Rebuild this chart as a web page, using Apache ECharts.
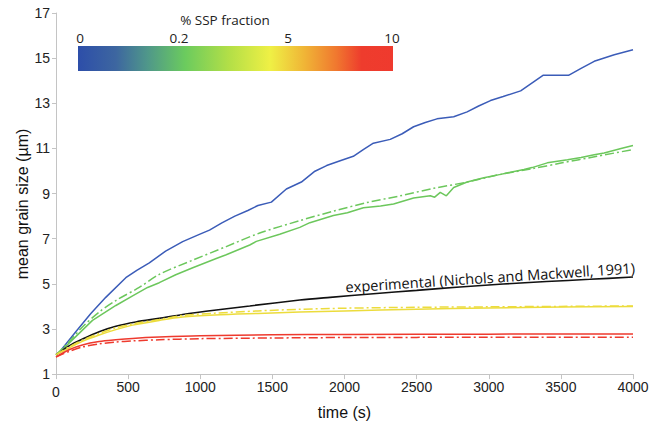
<!DOCTYPE html>
<html>
<head>
<meta charset="utf-8">
<script src="https://cdn.jsdelivr.net/npm/echarts@6/dist/echarts.min.js"></script>
<style>html,body{margin:0;padding:0;background:#fff}#c{width:657px;height:425px}</style>
</head>
<body>
<div id="c"></div>
<script>
// ---- data (time in s, mean grain size in µm) ----
const xTicks = [0, 500, 1000, 1500, 2000, 2500, 3000, 3500, 4000];
const yTicks = [1, 3, 5, 7, 9, 11, 13, 15, 17];
const legendTitle = '% SSP fraction';
const legendLabels = ['0', '0.2', '5', '10'];
const expLabel = 'experimental (Nichols and Mackwell, 1991)';

const blueT = [40, 140, 240, 345, 484, 560, 647, 760, 878, 994, 1064, 1150, 1240, 1330, 1400, 1493, 1597, 1701, 1795, 1876, 1970, 2061, 2130, 2200, 2317, 2400, 2479, 2560, 2641, 2757, 2850, 2930, 3012, 3100, 3221, 3376, 3553, 3640, 3731, 3870, 4000];
const blueV = [2.1, 2.9, 3.67, 4.4, 5.27, 5.6, 5.93, 6.45, 6.87, 7.19, 7.38, 7.7, 8.0, 8.25, 8.47, 8.62, 9.2, 9.51, 9.99, 10.24, 10.45, 10.65, 10.95, 11.23, 11.4, 11.65, 11.96, 12.15, 12.31, 12.4, 12.62, 12.88, 13.12, 13.3, 13.55, 14.24, 14.24, 14.55, 14.86, 15.15, 15.37];

const greenT = [20, 67, 137, 253, 415, 531, 635, 716, 830, 948, 1111, 1180, 1343, 1389, 1551, 1690, 1760, 1923, 2020, 2131, 2250, 2340, 2479, 2595, 2625, 2664, 2706, 2757, 2850, 2966, 3082, 3244, 3300, 3406, 3546, 3640, 3731, 3800, 3917, 4000];
const greenV = [1.95, 2.22, 2.66, 3.38, 4.04, 4.47, 4.84, 5.05, 5.4, 5.71, 6.12, 6.29, 6.72, 6.88, 7.2, 7.5, 7.71, 8.03, 8.15, 8.37, 8.45, 8.54, 8.8, 8.9, 8.84, 9.05, 8.9, 9.27, 9.51, 9.7, 9.85, 10.07, 10.15, 10.36, 10.5, 10.6, 10.72, 10.8, 11.0, 11.13];

const greenDT = [0, 56, 102, 183, 299, 415, 577, 716, 948, 1180, 1412, 1690, 1923, 2155, 2386, 2618, 2850, 3082, 3300, 3500, 3750, 4000];
const greenDV = [1.85, 2.22, 2.51, 3.09, 3.75, 4.26, 4.84, 5.42, 6.05, 6.65, 7.25, 7.8, 8.22, 8.6, 8.9, 9.23, 9.51, 9.85, 10.1, 10.35, 10.65, 10.95];

const expT = [0, 90, 183, 299, 415, 554, 716, 878, 1111, 1343, 1690, 1900, 2200, 2500, 2800, 3100, 3400, 3700, 4000];
const expV = [1.86, 2.25, 2.55, 2.88, 3.12, 3.31, 3.47, 3.64, 3.84, 4.02, 4.28, 4.4, 4.56, 4.71, 4.86, 4.99, 5.1, 5.2, 5.3];

const yellowT = [0, 90, 183, 299, 415, 531, 716, 878, 1100, 1400, 1690, 2000, 2500, 3000, 3500, 4000];
const yellowV = [1.86, 2.15, 2.45, 2.73, 2.97, 3.17, 3.38, 3.53, 3.62, 3.69, 3.75, 3.8, 3.87, 3.93, 3.97, 4.0];
const yellowDV = [1.86, 2.2, 2.5, 2.8, 3.05, 3.22, 3.42, 3.6, 3.7, 3.8, 3.87, 3.92, 3.96, 3.98, 4.0, 4.02];

const redT = [0, 90, 183, 299, 415, 531, 716, 1000, 1500, 2000, 3000, 4000];
const redV = [1.76, 2.08, 2.29, 2.44, 2.52, 2.58, 2.64, 2.7, 2.74, 2.76, 2.77, 2.78];
const redDV = [1.76, 2.0, 2.2, 2.34, 2.42, 2.47, 2.52, 2.57, 2.6, 2.62, 2.63, 2.63];

// ---- build ----
const zip = (t, v) => t.map((x, i) => [x, v[i]]);
const C = { blue: '#3b5cb8', green: '#6cc75c', yellow: '#ecdc3c', red: '#ee3a2e', black: '#111111' };
const DASHDOT = [9, 3, 2, 3];

function line(name, data, color, dashed, smooth, width) {
  return {
    name, type: 'line', data, showSymbol: false, symbol: 'none',
    smooth: smooth ? 0.3 : false, silent: true, animation: false,
    lineStyle: { color, width: width || 1.5, type: dashed ? DASHDOT : 'solid' },
    z: dashed ? 3 : 2
  };
}

const chart = echarts.init(document.getElementById('c'), null, { renderer: 'svg' });
const axisFont = 'Liberation Sans, Arial, sans-serif';
const legFont = '"Open Sans", "Noto Sans", sans-serif';

const option = {
  backgroundColor: '#fff',
  animation: false,
  grid: { left: 56, right: 24, top: 13, bottom: 47 },
  xAxis: {
    type: 'value', min: xTicks[0], max: xTicks[xTicks.length - 1], interval: 500,
    name: 'time (s)', nameLocation: 'middle', nameGap: 18,
    nameTextStyle: { fontFamily: axisFont, fontSize: 16, color: '#111' },
    axisLine: { lineStyle: { color: '#c4c4c4', width: 1 } },
    axisTick: { show: true, length: 5, lineStyle: { color: '#c4c4c4' } },
    axisLabel: { fontFamily: axisFont, fontSize: 14, color: '#222', margin: 6,
      formatter: v => v === 0 ? '{z|0}' : String(v),
      rich: { z: { fontFamily: axisFont, fontSize: 14, color: '#222', padding: [5, 0, 0, 0] } } },
    splitLine: { show: false }
  },
  yAxis: {
    type: 'value', min: yTicks[0], max: yTicks[yTicks.length - 1], interval: 2,
    axisLine: { show: true, lineStyle: { color: '#c4c4c4', width: 1 } },
    axisTick: { show: true, length: 4, lineStyle: { color: '#c4c4c4' } },
    axisLabel: { fontFamily: axisFont, fontSize: 14, color: '#222', margin: 6 },
    splitLine: { show: false }
  },
  series: [
    line('0', zip(blueT, blueV), C.blue, false, false, 1.5),
    line('0.2', zip(greenT, greenV), C.green, false, false, 1.5),
    line('0.2 dd', zip(greenDT, greenDV), C.green, true, true, 1.5),
    line('5', zip(yellowT, yellowV), C.yellow, false, true, 1.5),
    line('5 dd', zip(yellowT, yellowDV), C.yellow, true, true, 1.5),
    line('10', zip(redT, redV), C.red, false, true, 1.5),
    line('10 dd', zip(redT, redDV), C.red, true, true, 1.5),
    line('experimental', zip(expT, expV), C.black, false, true, 1.6)
  ]
};
chart.setOption(option);

// colour bar + labels
const barX = 78, barY = 46, barW = 315, barH = 25;
const labelX = [80, 179, 288, 392];
const graphics = [
  { type: 'rect', shape: { x: barX, y: barY, width: barW, height: barH }, silent: true,
    style: { fill: new echarts.graphic.LinearGradient(0, 0, 1, 0, [
      { offset: 0, color: '#2d4ea9' },
      { offset: 0.12, color: '#3d66a0' },
      { offset: 0.22, color: '#4f978a' },
      { offset: 0.34, color: '#6bcb5e' },
      { offset: 0.48, color: '#b3df47' },
      { offset: 0.61, color: '#eff045' },
      { offset: 0.72, color: '#f0b436' },
      { offset: 0.82, color: '#f0782f' },
      { offset: 0.9, color: '#ee3c2d' },
      { offset: 1, color: '#ef3a2e' }
    ]) } },
  { type: 'text', x: 225, y: 20, silent: true,
    style: { text: legendTitle, font: '13.5px ' + legFont, fill: '#222', align: 'center', verticalAlign: 'middle' } }
];
legendLabels.forEach((s, i) => graphics.push({ type: 'text', x: labelX[i], y: 38, silent: true,
  style: { text: s, font: '13.5px ' + legFont, fill: '#222', align: 'center', verticalAlign: 'middle' } }));

// experimental label, placed along the black curve
const pA = chart.convertToPixel({ gridIndex: 0 }, [2010, 4.46]);
const pB = chart.convertToPixel({ gridIndex: 0 }, [4000, 5.3]);
const ang = Math.atan2(pA[1] - pB[1], pB[0] - pA[0]);
graphics.push({ type: 'text', x: pA[0], y: pA[1] - 2, rotation: ang, silent: true,
  style: { text: expLabel, font: '14.6px ' + legFont, fill: '#111', align: 'left', verticalAlign: 'bottom' } });

// y axis title
graphics.push({ type: 'text', x: 22, y: 204, rotation: Math.PI / 2, silent: true,
  style: { text: 'mean grain size (µm)', font: '16px ' + axisFont, fill: '#111', align: 'center', verticalAlign: 'middle' } });

chart.setOption({ graphic: graphics });
</script>
</body>
</html>
